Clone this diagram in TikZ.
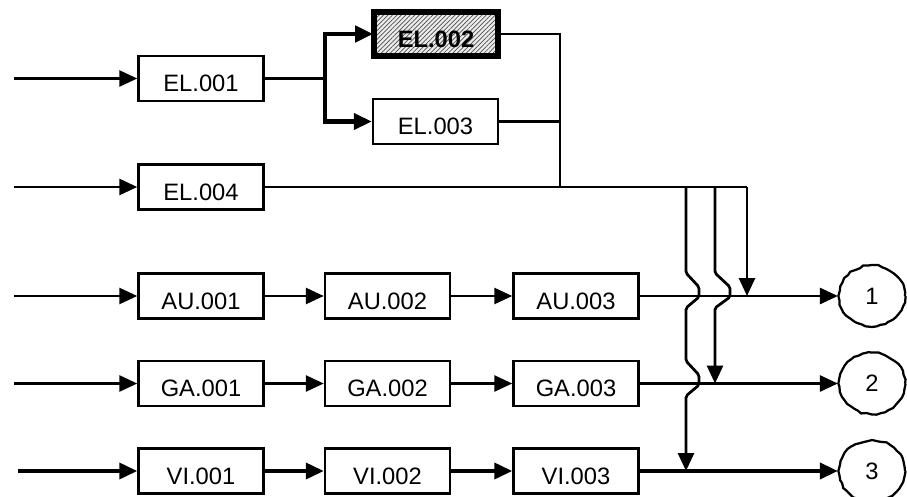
\documentclass[tikz,border=0pt]{standalone}
\usepackage{fontspec}
\setmainfont{Liberation Sans}
\usetikzlibrary{arrows.meta,shapes.geometric,patterns.meta,decorations.pathmorphing}
\tikzset{
  blk/.style={draw, line width=0.05cm, minimum width=2.5cm, minimum height=0.9cm, inner sep=0pt,
    text height=15pt, text depth=0pt, font=\fontsize{13.5}{15}\selectfont},
  endpt/.style={draw, ellipse, line width=0.045cm, minimum width=1.32cm, minimum height=1.22cm, inner sep=0pt,
    decorate, decoration={random steps, segment length=2.5pt, amplitude=0.5pt}, font=\fontsize{13.5}{15}\selectfont},
  wire/.style={line width=0.055cm},
  tip/.style={-{Triangle[length=0.36cm, width=0.32cm]}}
}
\begin{document}
\begin{tikzpicture}[x=0.02cm, y=-0.02cm]
\useasboundingbox (0,0) rectangle (907,497);
% EL rows
\node[blk] (el1) at (201,78.5) {EL.001};
\node[blk, line width=0.12cm, preaction={fill=gray!15}, pattern={Lines[angle=45, distance=1.8pt, line width=0.4pt]},
  pattern color=gray!60!black, font=\fontsize{13.5}{15}\selectfont\bfseries] (el2) at (436,34) {EL.002};
\node[blk] (el3) at (435.5,121.5) {EL.003};
\node[blk] (el4) at (201,187) {EL.004};
\coordinate (in1) at (14,78.5);
\coordinate (in4) at (14,187);
\coordinate (split) at (325,78.5);
\coordinate (merge) at (560,187);
\draw[wire, tip] (in1) -- (el1);
\draw[wire, tip] (in4) -- (el4);
\draw[wire] (el1) -- (split);
\draw[line width=0.09cm, tip] (split) |- (el2);
\draw[line width=0.09cm, tip] (split) |- (el3);
\draw[wire] (el2) -| (merge);
\draw[wire] (el3) -| (merge);
% AU / GA / VI rows
\foreach \r/\lab/\y/\x/\w/\i in {au/AU/296/14/0.055/1, ga/GA/383.5/14/0.055/2, vi/VI/471/18/0.075/3} {
  \node[blk] (\r1) at (201,\y) {\lab.001};
  \node[blk] (\r2) at (387.5,\y) {\lab.002};
  \node[blk] (\r3) at (576,\y) {\lab.003};
  \node[endpt] (out\i) at (872,\y) {\i};
  \coordinate (\r0) at (\x,\y);
  \draw[line width=\w cm, tip] (\r0) -- (\r1);
  \draw[line width=\w cm, tip] (\r1) -- (\r2);
  \draw[line width=\w cm, tip] (\r2) -- (\r3);
  \draw[line width=\w cm, tip] (\r3) -- (out\i);
}
% feeds with line hops
\coordinate (t1) at (686,187);
\coordinate (t2) at (715,187);
\coordinate (t3) at (747,187);
\coordinate (d1) at (686,471);
\coordinate (d2) at (715,383.5);
\coordinate (d3) at (747,296);
\draw[wire] (el4) -- (t3);
\draw[wire, tip] (t3) -- (d3);
\draw[wire, tip, rounded corners=1pt] (t2) -- (715,273) -- ++(15,14) -- ++(0,10) -- ++(-15,11) -- (d2);
\draw[wire, tip, rounded corners=1pt] (t1) -- (686,273) -- ++(13,14) -- ++(0,10) -- ++(-13,11)
  -- (686,361) -- ++(13,14) -- ++(0,10) -- ++(-13,11) -- (d1);
\end{tikzpicture}
\end{document}
